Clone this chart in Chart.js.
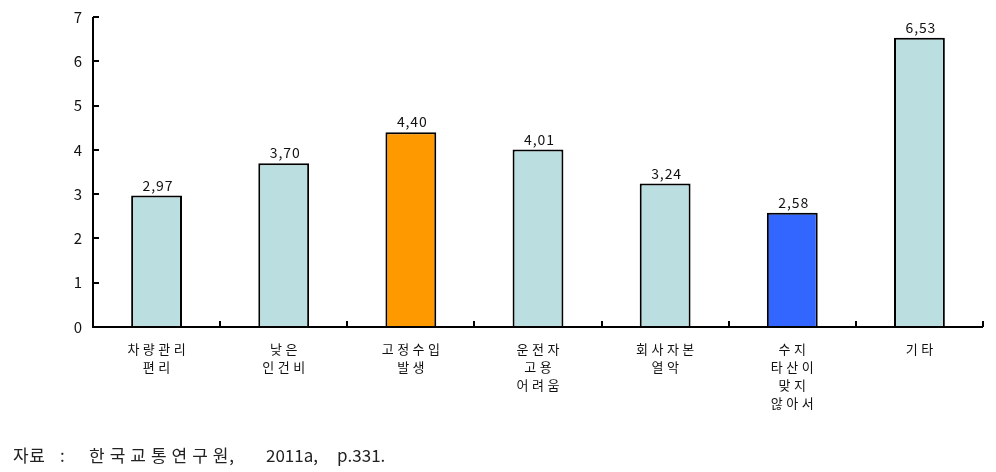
<!DOCTYPE html>
<html>
<head>
<meta charset="utf-8">
<script src="https://cdn.jsdelivr.net/npm/chart.js@4/dist/chart.umd.min.js"></script>
<style>
  html, body { margin: 0; padding: 0; background: #fff; }
  #wrap { width: 996px; height: 472px; position: relative; }
</style>
</head>
<body>
<div id="wrap"><canvas id="myChart" width="996" height="472"></canvas></div>
<script>
// categories (multi-line labels) and values
var labels = [
    ['차량관리', '편리'],
    ['낮은', '인건비'],
    ['고정수입', '발생'],
    ['운전자', '고용', '어려움'],
    ['회사자본', '열악'],
    ['수지', '타산이', '맞지', '않아서'],
    ['기타']
];
var values = [2.97, 3.70, 4.40, 4.01, 3.24, 2.58, 6.53];
var colors = ['#bbdfe1', '#bbdfe1', '#ff9900', '#bbdfe1', '#bbdfe1', '#3366ff', '#bbdfe1'];
var yTicks = [0, 1, 2, 3, 4, 5, 6, 7];
var sourceParts = ['자료', ':', '한국교통연구원,', '2011a,', 'p.331.'];

var fontKr = '"Noto Sans CJK KR", "Noto Sans", sans-serif';

// draw a string one character at a time; extra gap between hangul letters
function spacedText(ctx, str, x, y, gap, align) {
    var chars = Array.from(str);
    var hangul = /[\uac00-\ud7a3]/;
    var gaps = chars.map(function(c, i) {
        if (i === chars.length - 1) return 0;
        return (hangul.test(c) && hangul.test(chars[i + 1])) ? gap : gap * 0.15;
    });
    var widths = chars.map(function(c) { return ctx.measureText(c).width; });
    var total = 0;
    widths.forEach(function(w, i) { total += w + gaps[i]; });
    var cx = align === 'center' ? x - total / 2 : x;
    var saved = ctx.textAlign;
    ctx.textAlign = 'left';
    chars.forEach(function(c, i) {
        ctx.fillText(c, cx, y);
        cx += widths[i] + gaps[i];
    });
    ctx.textAlign = saved;
}

// axes with inward ticks, tick labels, value labels and source line
const extras = {
    id: 'extras',
    afterDatasetsDraw(chart) {
        const ctx = chart.ctx;
        const x = chart.scales.x, y = chart.scales.y;
        ctx.save();
        ctx.strokeStyle = '#000';
        ctx.lineWidth = 2;
        ctx.beginPath();
        ctx.moveTo(x.left, y.top);
        ctx.lineTo(x.left, y.bottom);
        ctx.lineTo(x.right, y.bottom);
        yTicks.forEach(function(v) {
            var py = Math.round(y.getPixelForValue(v));
            ctx.moveTo(x.left, py);
            ctx.lineTo(x.left + 6, py);
        });
        var step = (x.right - x.left) / labels.length;
        for (var i = 1; i <= labels.length; i++) {
            var px = Math.round(x.left + step * i);
            ctx.moveTo(px, y.bottom);
            ctx.lineTo(px, y.bottom - 6);
        }
        ctx.stroke();

        // y tick labels
        ctx.fillStyle = '#111';
        ctx.font = '15px ' + fontKr;
        ctx.textAlign = 'right';
        ctx.textBaseline = 'middle';
        yTicks.forEach(function(v) {
            ctx.fillText(String(v), x.left - 11, y.getPixelForValue(v));
        });

        // category labels
        ctx.font = '13px ' + fontKr;
        labels.forEach(function(lines, i) {
            var cx = x.getPixelForValue(i);
            lines.forEach(function(line, j) {
                spacedText(ctx, line, cx, y.bottom + 22 + j * 18, 3.5, 'center');
            });
        });

        // value labels
        ctx.font = '14px ' + fontKr;
        ctx.textBaseline = 'bottom';
        const meta = chart.getDatasetMeta(0);
        meta.data.forEach(function(bar, i) {
            spacedText(ctx, values[i].toFixed(2).replace('.', ','), bar.x + 1, bar.y - 3, 6, 'center');
        });

        // source line
        ctx.font = '17px ' + fontKr;
        ctx.textBaseline = 'alphabetic';
        ctx.fillStyle = '#222';
        var sx = [13, 60, 89, 266, 337];
        var sg = [0.5, 0, 5, 0, 0];
        sourceParts.forEach(function(p, i) {
            spacedText(ctx, p, sx[i], 462, sg[i], 'left');
        });
        ctx.restore();
    }
};

const data2 = {
    labels: labels,
    datasets: [{
        data: values,
        backgroundColor: colors,
        borderColor: '#000',
        borderWidth: 2,
        borderSkipped: 'bottom',
        barPercentage: 0.4,
        categoryPercentage: 1.0
    }]
};

const config = {
    type: 'bar',
    data: data2,
    options: {
        responsive: false,
        animation: false,
        layout: { padding: { top: 17, right: 13, left: 0, bottom: 0 } },
        plugins: { legend: { display: false }, tooltip: { enabled: false } },
        scales: {
            x: {
                grid: { display: false, drawTicks: false },
                border: { display: false },
                ticks: { display: false },
                afterFit: function(s) { s.height = 145; }
            },
            y: {
                min: 0,
                max: 7,
                grid: { display: false, drawTicks: false },
                border: { display: false },
                ticks: { display: false, stepSize: 1 },
                afterFit: function(s) { s.width = 93; }
            }
        }
    },
    plugins: [extras]
};

const myChart = new Chart(document.getElementById('myChart').getContext('2d'), config);
</script>
</body>
</html>
